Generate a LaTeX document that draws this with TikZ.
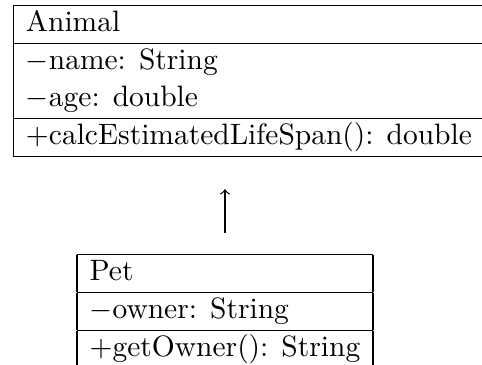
\documentclass[tikz,border=0pt]{standalone}
\begin{document}
\begin{tikzpicture}[x=0.339pt,y=-0.339pt,
  umlclass/.style={inner sep=0pt, outer sep=0pt, anchor=north west},
  inherit/.style={-to, line width=0.4pt}]
\useasboundingbox (0,0) rectangle (482,365);
\clip (0,0) rectangle (482,365);
\node[umlclass] (animal) at (13.3,5) {\setlength{\tabcolsep}{4.3pt}\renewcommand{\arraystretch}{1.04}%
\begin{tabular}{|l|}\hline
Animal\\\hline
$-$name: String\\
$-$age: double\\\hline
$+$calcEstimatedLifeSpan(): double\\\hline
\end{tabular}};
\node[umlclass] (pet) at (77,254) {\setlength{\tabcolsep}{4.3pt}\renewcommand{\arraystretch}{1.04}%
\begin{tabular}{|l|}\hline
Pet\\\hline
$-$owner: String\\\hline
$+$getOwner(): String\\\hline
\end{tabular}};
\draw[inherit, shorten <=7.1pt, shorten >=10.9pt] (pet.north) -- (pet.north |- animal.south);
\end{tikzpicture}
\end{document}
